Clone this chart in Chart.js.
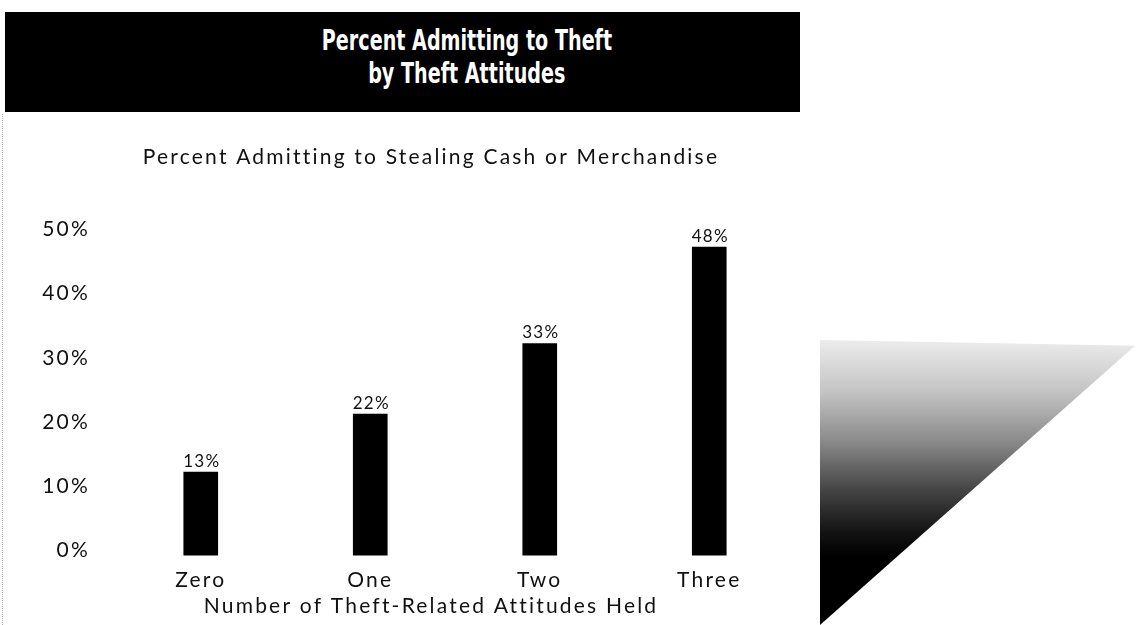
<!DOCTYPE html>
<html>
<head>
<meta charset="utf-8">
<script src="https://cdn.jsdelivr.net/npm/chart.js@4/dist/chart.umd.min.js"></script>
<style>
  body { margin: 0; background: #fff; width: 1137px; height: 625px; overflow: hidden; position: relative; }
  #header {
    position: absolute; left: 5px; top: 12px; width: 795px; height: 100px;
    background: #000; color: #fff;
  }
  #header div {
    position: absolute; left: 0; width: 924px; text-align: center;
    font-family: "DejaVu Sans Condensed", "DejaVu Sans", sans-serif;
    font-weight: bold; font-size: 28px; line-height: 33px;
  }
  #header span { display: inline-block; transform: scaleX(0.76); transform-origin: center; }
  #edge { position: absolute; left: 2px; top: 114px; height: 511px; border-left: 1px dotted #aaa; }
  #wrap { position: absolute; left: 0; top: 120px; width: 862px; height: 505px; }
  #wedge {
    position: absolute; left: 820px; top: 340px; width: 315px; height: 285px;
    clip-path: polygon(0 0, 100% 2%, 0 100%);
    background: linear-gradient(to bottom, #ececec 0%, #c4c4c4 18%, #8c8c8c 35%, #474747 52%, #141414 67%, #000 76%);
  }
</style>
</head>
<body>
<div id="header">
  <div style="top:12px"><span>Percent Admitting to Theft</span></div>
  <div style="top:45px"><span>by Theft Attitudes</span></div>
</div>
<div id="edge"></div>
<div id="wrap"><canvas id="theftChart"></canvas></div>
<div id="wedge"></div>
<script>
const attitudes = ["Zero", "One", "Two", "Three"];
const percentAdmitting = [13, 22, 33, 48];
const yTicks = [0, 10, 20, 30, 40, 50];

// the printed lettering is wide and tracked, so space the canvas text out a little
const tracking = {
  id: "tracking",
  beforeLayout(chart) { chart.ctx.letterSpacing = "2.2px"; },
  beforeDraw(chart) { chart.ctx.letterSpacing = "2.2px"; },
};

const barLabels = {
  id: "barLabels",
  afterDatasetsDraw(chart) {
    const ctx = chart.ctx;
    const meta = chart.getDatasetMeta(0);
    ctx.save();
    ctx.letterSpacing = "1.3px";
    ctx.fillStyle = "#111";
    ctx.font = "17px Lato";
    ctx.textAlign = "center";
    ctx.textBaseline = "bottom";
    meta.data.forEach((bar, i) => {
      ctx.fillText(percentAdmitting[i] + "%", bar.x + 1, bar.y - 2);
    });
    ctx.restore();
  }
};

let theftChart = new Chart(document.getElementById("theftChart"), {
  type: "bar",
  data: {
    labels: attitudes,
    datasets: [
      {
        data: percentAdmitting,
        backgroundColor: "#000",
        barThickness: 34,
      },
    ],
  },
  options: {
    responsive: true,
    maintainAspectRatio: false,
    animation: false,
    layout: { padding: 0 },
    plugins: {
      legend: { display: false },
      tooltip: { enabled: false },
      title: {
        display: true,
        text: "Percent Admitting to Stealing Cash or Merchandise",
        color: "#111",
        font: { family: "Lato", size: 21, weight: "normal", lineHeight: 1.2 },
        padding: { top: 25, bottom: 64 },
      },
      subtitle: {
        display: true,
        position: "bottom",
        text: "Number of Theft-Related Attitudes Held",
        color: "#111",
        font: { family: "Lato", size: 21, weight: "normal", lineHeight: 1.2 },
        padding: { top: -11, bottom: 6 },
      },
    },
    scales: {
      x: {
        grid: { display: false, drawTicks: false },
        border: { display: false },
        ticks: { color: "#111", font: { family: "Lato", size: 21 }, padding: 12 },
      },
      y: {
        min: 0,
        max: 50,
        afterBuildTicks(scale) {
          scale.ticks = yTicks.map((v) => ({ value: v }));
        },
        afterFit(scale) {
          scale.width = 116;
        },
        grid: { display: false, drawTicks: false },
        border: { display: false },
        ticks: {
          color: "#111",
          font: { family: "Lato", size: 21 },
          padding: 26,
          labelOffset: -5,
          callback: (v) => v + "%",
        },
      },
      // empty right margin so the titles centre on the whole canvas
      yRight: {
        type: "linear",
        position: "right",
        afterFit(scale) {
          scale.width = 68;
        },
        grid: { display: false, drawTicks: false },
        border: { display: false },
        ticks: { display: false },
      },
    },
  },
  plugins: [tracking, barLabels],
});
</script>
</body>
</html>
